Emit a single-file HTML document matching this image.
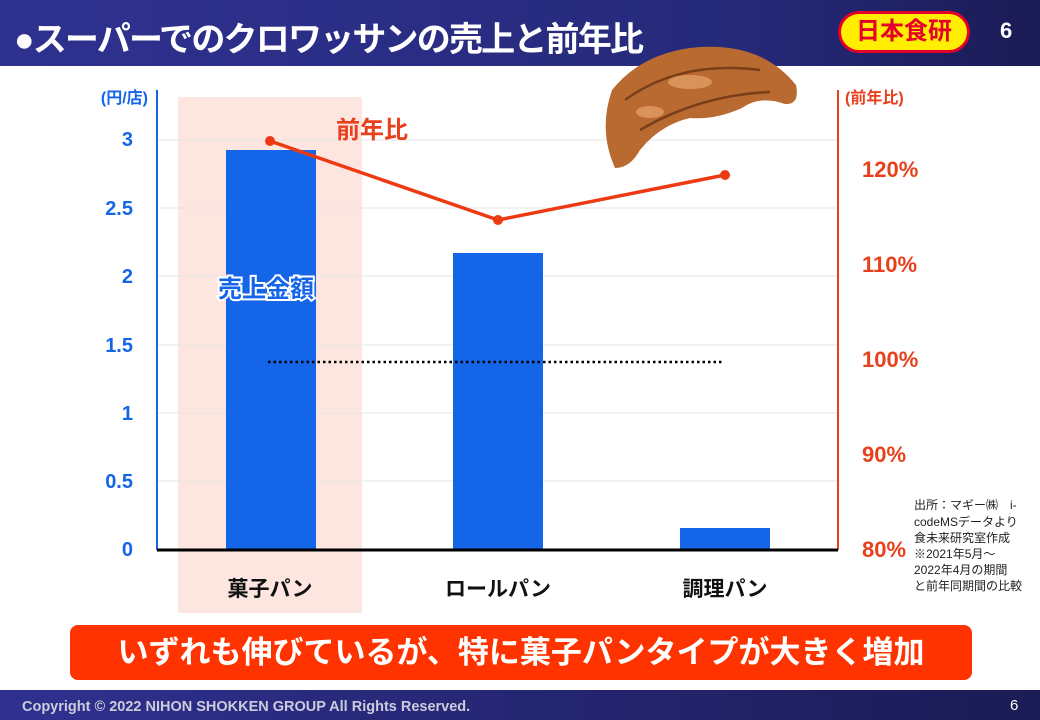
<!DOCTYPE html><html><head><meta charset="utf-8"><style>
body{margin:0;width:1040px;height:720px;position:relative;overflow:hidden;background:#fff;font-family:"Liberation Sans","Noto Sans CJK JP",sans-serif}
.a{position:absolute}
</style></head><body>
<div class="a" style="left:0;top:0;width:1040px;height:66px;background:linear-gradient(90deg,#2f3190,#262a7a 70%,#1b1b55)"></div>
<div class="a" style="left:14px;top:12px;color:#fff;font-size:34px;font-weight:bold;letter-spacing:-1.8px">●スーパーでのクロワッサンの売上と前年比</div>
<div class="a" style="left:838px;top:11px;width:132px;height:42px;border-radius:22px;background:#ffee00;border:3px solid #e4002b;box-sizing:border-box;color:#e4002b;font-weight:bold;font-size:24px;text-align:center;line-height:36px">日本食研</div>
<div class="a" style="left:1000px;top:18px;color:#fff;font-size:22px;font-weight:bold">6</div>
<div class="a" style="left:0;top:690px;width:1040px;height:30px;background:linear-gradient(90deg,#2f3190,#1b1b55)"></div>
<div class="a" style="left:22px;top:699px;color:#ccd;font-size:14.5px;font-weight:bold">Copyright © 2022 NIHON SHOKKEN GROUP All Rights Reserved.</div>
<div class="a" style="left:1010px;top:697px;color:#fff;font-size:15px">6</div>
<svg class="a" style="left:0;top:0" width="1040" height="720">
<rect x="178" y="97" width="184" height="516" fill="#fde6df"/>
<g stroke="#e6e6e6"><line x1="157" x2="838" y1="140" y2="140"/><line x1="157" x2="838" y1="208" y2="208"/><line x1="157" x2="838" y1="276" y2="276"/><line x1="157" x2="838" y1="345" y2="345"/><line x1="157" x2="838" y1="413" y2="413"/><line x1="157" x2="838" y1="481" y2="481"/></g>
<rect x="226" y="150" width="90" height="400" fill="#1565e8"/>
<rect x="453" y="253" width="90" height="297" fill="#1565e8"/>
<rect x="680" y="528" width="90" height="22" fill="#1565e8"/>
<line x1="157" x2="157" y1="90" y2="550" stroke="#1565e8" stroke-width="2"/>
<line x1="838" x2="838" y1="90" y2="550" stroke="#e8401c" stroke-width="2"/>
<line x1="157" x2="838" y1="550" y2="550" stroke="#000" stroke-width="3"/>
<line x1="268" x2="722" y1="362" y2="362" stroke="#000" stroke-width="2.5" stroke-dasharray="2.5 3"/>
<polyline points="270,141 498,220 725,175" fill="none" stroke="#ee3a12" stroke-width="3.5"/>
<circle cx="270" cy="141" r="5" fill="#ee3a12"/><circle cx="498" cy="220" r="5" fill="#ee3a12"/><circle cx="725" cy="175" r="5" fill="#ee3a12"/>
<g fill="#1565e8" font-weight="bold" font-size="20" text-anchor="end"><text x="133" y="146">3</text><text x="133" y="215">2.5</text><text x="133" y="283">2</text><text x="133" y="352">1.5</text><text x="133" y="420">1</text><text x="133" y="488">0.5</text><text x="133" y="556">0</text><text x="148" y="103" font-size="16">(円/店)</text></g>
<g fill="#e8401c" font-weight="bold" font-size="22"><text x="862" y="177">120%</text><text x="862" y="272">110%</text><text x="862" y="367">100%</text><text x="862" y="462">90%</text><text x="862" y="557">80%</text><text x="845" y="103" font-size="16">(前年比)</text></g>
<text x="336" y="138" fill="#e8401c" font-weight="bold" font-size="24">前年比</text>
<text x="218" y="297" fill="#1565e8" font-weight="bold" font-size="24" stroke="#fff" stroke-width="4" paint-order="stroke">売上金額</text>
<g font-weight="bold" font-size="21" text-anchor="middle" fill="#111"><text x="270" y="596">菓子パン</text><text x="498" y="596">ロールパン</text><text x="725" y="596">調理パン</text></g>
<g fill="#222" font-size="12"><text x="914" y="509">出所：マギー㈱　i-</text><text x="914" y="526">codeMSデータより</text><text x="914" y="542">食未来研究室作成</text><text x="914" y="558">※2021年5月～</text><text x="914" y="574">2022年4月の期間</text><text x="914" y="590">と前年同期間の比較</text></g>
<path d="M615,168 Q598,130 612,90 Q640,55 690,48 Q760,40 796,85 Q800,105 785,104 Q760,95 742,108 Q715,120 690,118 Q660,125 640,150 Q630,168 615,168Z" fill="#b86a30"/>
<path d="M625,100 Q680,60 760,70 M640,130 Q700,95 770,92" stroke="#7a3e18" stroke-width="2.5" fill="none"/>
<ellipse cx="690" cy="82" rx="22" ry="7" fill="#d9935a"/>
<ellipse cx="650" cy="112" rx="14" ry="6" fill="#d9935a"/>
<rect x="70" y="625" width="902" height="55" rx="8" fill="#ff3300"/>
<text x="521" y="663" fill="#fff" font-weight="bold" font-size="31" text-anchor="middle">いずれも伸びているが、特に菓子パンタイプが大きく増加</text>
</svg>
</body></html>
